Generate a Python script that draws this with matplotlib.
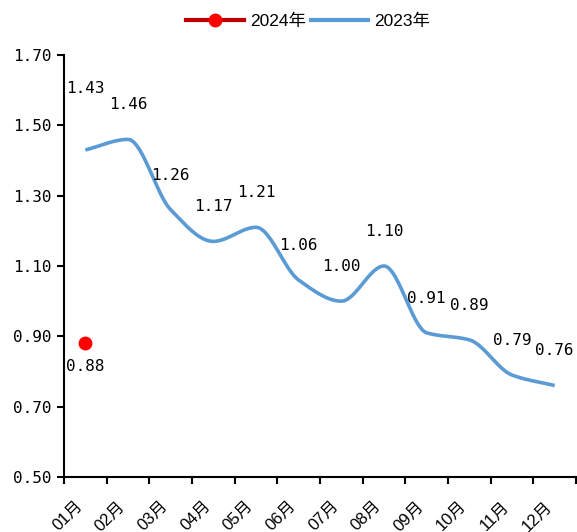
import numpy as np
import matplotlib
matplotlib.use("Agg")
import matplotlib.pyplot as plt
from matplotlib.lines import Line2D

months = ["01月", "02月", "03月", "04月", "05月", "06月",
          "07月", "08月", "09月", "10月", "11月", "12月"]
values_2023 = [1.43, 1.46, 1.26, 1.17, 1.21, 1.06, 1.00, 1.10, 0.91, 0.89, 0.79, 0.76]
values_2024 = [0.88]

yticks = [0.50, 0.70, 0.90, 1.10, 1.30, 1.50, 1.70]

cjk = ["Liberation Sans", "Noto Sans CJK SC"]
mono = ["DejaVu Sans Mono", "Noto Sans CJK SC"]
plt.rcParams["font.family"] = cjk


def pchip(x, y, xs):
    # monotone cubic Hermite (Fritsch-Carlson) for a smooth line
    x = np.asarray(x, float)
    y = np.asarray(y, float)
    h = np.diff(x)
    d = np.diff(y) / h
    m = np.zeros_like(y)
    for i in range(1, len(y) - 1):
        if d[i - 1] * d[i] > 0:
            w1 = 2 * h[i] + h[i - 1]
            w2 = h[i] + 2 * h[i - 1]
            m[i] = (w1 + w2) / (w1 / d[i - 1] + w2 / d[i])
    m[0] = d[0]
    m[-1] = d[-1]
    out = np.empty_like(xs)
    for j, xv in enumerate(xs):
        i = min(max(np.searchsorted(x, xv) - 1, 0), len(x) - 2)
        t = (xv - x[i]) / h[i]
        h00 = 2 * t**3 - 3 * t**2 + 1
        h10 = t**3 - 2 * t**2 + t
        h01 = -2 * t**3 + 3 * t**2
        h11 = t**3 - t**2
        out[j] = h00 * y[i] + h10 * h[i] * m[i] + h01 * y[i + 1] + h11 * h[i] * m[i + 1]
    return out


fig = plt.figure(figsize=(5.77, 5.32), dpi=100)
ax = fig.add_axes([64 / 577, 55 / 532, 512 / 577, 422 / 532])

x = np.arange(len(months))
xs = np.linspace(0, len(months) - 1, 400)
blue = "#5b9bd5"
ax.plot(xs, pchip(x, values_2023, xs), color=blue, lw=2.6, solid_capstyle="butt")

ax.plot(x[:len(values_2024)], values_2024, "o", color="#ff0000", ms=9, zorder=3)

for i, v in enumerate(values_2023):
    off = 44 if i == 0 else 25
    ax.annotate(f"{v:.2f}", (i, v), xytext=(0, off), textcoords="offset points",
                ha="center", va="center", fontsize=11.5, family=mono)
for i, v in enumerate(values_2024):
    ax.annotate(f"{v:.2f}", (i, v), xytext=(0, -17), textcoords="offset points",
                ha="center", va="center", fontsize=11.5, family=mono)

ax.set_xlim(-0.5, len(months) - 0.5)
ax.set_ylim(0.5, 1.7)
ax.set_yticks(yticks)
ax.set_yticklabels([f"{t:.2f}" for t in yticks], family=mono, fontsize=11.5)

ax.set_xticks(x)
ax.set_xticklabels(months, rotation=45, ha="right", va="bottom",
                   rotation_mode="anchor", fontsize=12)
ax.tick_params(axis="x", which="major", length=0, pad=23)
ax.set_xticks(np.arange(-0.5, len(months)), minor=True)
ax.tick_params(axis="x", which="minor", length=5, width=1.5, direction="out")
ax.tick_params(axis="y", length=5, width=1.5, direction="out", pad=4)

for s in ("top", "right"):
    ax.spines[s].set_visible(False)
for s in ("left", "bottom"):
    ax.spines[s].set_linewidth(1.5)

handles = [
    Line2D([], [], color="#c00000", lw=3, marker="o", markerfacecolor="#ff0000",
           markeredgecolor="#ff0000", ms=9),
    Line2D([], [], color=blue, lw=3),
]
fig.legend(handles, ["2024年", "2023年"], loc="center", bbox_to_anchor=(0.534, 0.959),
           ncol=2, frameon=False, fontsize=12.5, handlelength=3.3, handletextpad=0.35,
           columnspacing=0.3, borderpad=0)

fig.savefig("out.png", dpi=100)
